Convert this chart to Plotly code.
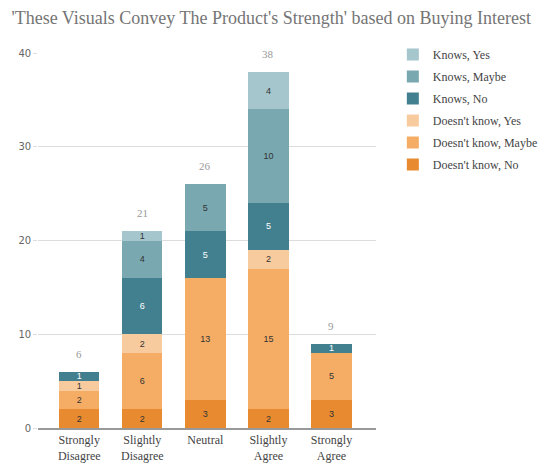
import plotly.graph_objects as go

categories = ["Strongly<br>Disagree", "Slightly<br>Disagree", "Neutral", "Slightly<br>Agree", "Strongly<br>Agree"]

# Stacked from bottom to top
series_names = ["Doesn't know, No", "Doesn't know, Maybe", "Doesn't know, Yes",
                "Knows, No", "Knows, Maybe", "Knows, Yes"]
dk_no = [2, 2, 3, 2, 3]
dk_maybe = [2, 6, 13, 15, 5]
dk_yes = [1, 2, 0, 2, 0]
knows_no = [1, 6, 5, 5, 1]
knows_maybe = [0, 4, 5, 10, 0]
knows_yes = [0, 1, 0, 4, 0]
series_values = [dk_no, dk_maybe, dk_yes, knows_no, knows_maybe, knows_yes]

colors = ["#e88b30", "#f5ad66", "#f8cb9e", "#43808f", "#7aa8b1", "#a4c6cc"]
label_colors = ["#333333", "#333333", "#333333", "#ffffff", "#333333", "#333333"]

serif = "Liberation Serif"
W, H = 543, 467
PL, PR, PT, PB = 40, 393, 53, 428  # plot box in pixels

fig = go.Figure()
n = len(series_names)
for i, (name, vals, col, lcol) in enumerate(zip(series_names, series_values, colors, label_colors)):
    fig.add_trace(go.Bar(
        x=categories, y=vals, name=name,
        marker=dict(color=col, line=dict(width=0)),
        text=[str(v) if v else "" for v in vals],
        textposition="inside", insidetextanchor="middle", textangle=0,
        textfont=dict(size=9, color=lcol, family="Liberation Sans"),
        width=0.64, legendgroup=name, legendrank=n - i, hoverinfo="skip",
    ))

totals = [sum(s[i] for s in series_values) for i in range(len(categories))]
for cat, tot in zip(categories, totals):
    fig.add_annotation(x=cat, y=tot, text=str(tot), showarrow=False,
                       yanchor="bottom", yshift=10,
                       font=dict(family=serif, size=11, color="#999999"))

fig.update_layout(
    barmode="stack",
    width=W, height=H,
    margin=dict(l=0, r=0, t=0, b=0),
    paper_bgcolor="white", plot_bgcolor="white",
    title=dict(text="'These Visuals Convey The Product's Strength' based on Buying Interest",
               xref="paper", yref="paper",
               x=12 / W, xanchor="left", y=1 - 18 / H, yanchor="middle",
               font=dict(family=serif, size=18, color="#757575")),
    legend=dict(xref="paper", yref="paper", x=411 / W, xanchor="left",
                y=1 - 40 / H, yanchor="top",
                traceorder="grouped", tracegroupgap=3,
                font=dict(family=serif, size=12, color="#444444"),
                itemwidth=30, bgcolor="rgba(0,0,0,0)"),
    uniformtext=dict(minsize=9, mode="show"),
    xaxis=dict(domain=[PL / W, PR / W], range=[-0.65, 4.7], automargin=False,
               showgrid=False, ticks="",
               showline=True, linecolor="#999999", linewidth=2,
               tickfont=dict(family=serif, size=12, color="#444444")),
    yaxis=dict(domain=[1 - PB / H, 1 - PT / H], range=[0, 40], dtick=10, automargin=False,
               showgrid=True, gridcolor="#dddddd",
               zeroline=False, ticks="outside", ticklen=4, tickcolor="#dddddd",
               tickfont=dict(family="DejaVu Sans", size=10, color="#666666")),
    showlegend=True,
)

fig.write_html("out.html")
